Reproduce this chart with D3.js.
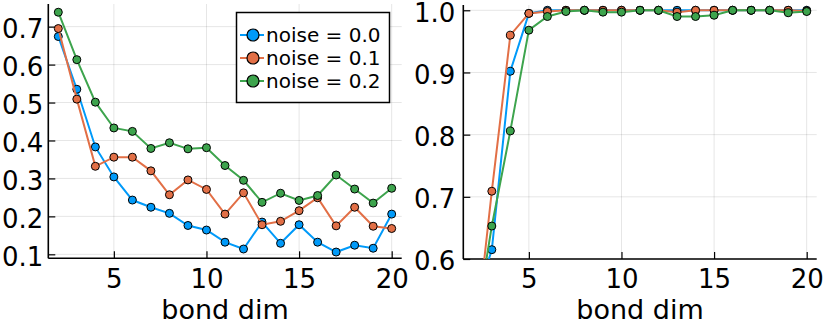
<!DOCTYPE html>
<html><head><meta charset="utf-8">
<script src="https://cdn.jsdelivr.net/npm/d3@7"></script>
<style>body{margin:0;background:#fff}svg{display:block}text{font-family:"DejaVu Sans",sans-serif;fill:#000}</style>
</head><body><svg id="c" width="823" height="322"></svg>
<script>
const bondDims = [2,3,4,5,6,7,8,9,10,11,12,13,14,15,16,17,18,19,20];
const seriesNames = ["noise = 0.0","noise = 0.1","noise = 0.2"];
const seriesColors = ["#009af9","#e26f46","#3da44d"];
// left panel
const left0 = [0.674,0.535,0.383,0.304,0.243,0.224,0.208,0.176,0.164,0.132,0.114,0.185,0.129,0.178,0.132,0.106,0.124,0.116,0.206];
const left1 = [0.695,0.509,0.332,0.356,0.356,0.320,0.257,0.296,0.271,0.206,0.262,0.178,0.187,0.215,0.249,0.175,0.224,0.174,0.168];
const left2 = [0.738,0.613,0.501,0.433,0.424,0.379,0.394,0.378,0.381,0.334,0.295,0.237,0.261,0.242,0.255,0.309,0.272,0.235,0.274];
// right panel
const right0 = [0.52,0.615,0.902,0.995,1.0,1.0,1.0,1.0,1.0,1.0,1.0,1.0,1.0,1.0,1.0,1.0,1.0,1.0,1.0];
const right1 = [0.44,0.709,0.960,0.995,0.998,1.0,1.0,1.0,1.0,1.0,1.0,0.997,1.0,1.0,1.0,1.0,1.0,1.0,0.999];
const right2 = [0.47,0.653,0.806,0.968,0.990,0.998,1.0,0.997,0.997,1.0,1.0,0.990,0.990,0.992,1.0,1.0,1.0,0.996,0.998];
const xTicks = [5,10,15,20];
const leftYTicks = [0.1,0.2,0.3,0.4,0.5,0.6,0.7];
const rightYTicks = [0.6,0.7,0.8,0.9,1.0];
const xLabel = "bond dim";

const svg = d3.select("#c");
const TICK_FONT = 26, LABEL_FONT = 27, LEG_FONT = 20;

function panel(id, box, yDomain, yTicks, series, legend, yPad) {
  const x = d3.scaleLinear().domain([1.46, 20.54]).range([box.l, box.r]);
  const y = d3.scaleLinear().domain(yDomain).range([box.b, box.t]);
  const g = svg.append("g");
  const clipId = "clip" + id;
  g.append("clipPath").attr("id", clipId).append("rect")
    .attr("x", box.l).attr("y", box.t).attr("width", box.r - box.l).attr("height", box.b - box.t);
  // grid
  g.append("g").selectAll("line.gx").data(xTicks).join("line")
    .attr("x1", d => x(d)).attr("x2", d => x(d)).attr("y1", box.t).attr("y2", box.b)
    .attr("stroke", "#000").attr("stroke-opacity", 0.1).attr("stroke-width", 1);
  g.append("g").selectAll("line.gy").data(yTicks).join("line")
    .attr("x1", box.l).attr("x2", box.r).attr("y1", d => y(d)).attr("y2", d => y(d))
    .attr("stroke", "#000").attr("stroke-opacity", 0.1).attr("stroke-width", 1);
  // axes via d3
  const xAxis = d3.axisBottom(x).tickValues(xTicks).tickSize(-7).tickPadding(10).tickFormat(d3.format("d"));
  const yAxis = d3.axisLeft(y).tickValues(yTicks).tickSize(-7).tickPadding(yPad).tickFormat(d3.format(".1f"));
  const gx = g.append("g").attr("transform", `translate(0,${box.b})`).call(xAxis);
  const gy = g.append("g").attr("transform", `translate(${box.l},0)`).call(yAxis);
  [gx, gy].forEach(a => {
    a.select(".domain").remove();
    a.selectAll("line").attr("stroke", "#000").attr("stroke-width", 1.2);
    a.selectAll("text").style("font-family", '"DejaVu Sans",sans-serif').style("font-size", TICK_FONT + "px").attr("fill", "#000");
  });
  gx.selectAll("text").attr("dy", null).attr("y", 288 - box.b);
  gy.selectAll("text").attr("dy", "0.36em").attr("y", 1.5);
  // axis lines
  g.append("line").attr("x1", box.l).attr("x2", box.r).attr("y1", box.b).attr("y2", box.b).attr("stroke", "#000").attr("stroke-width", 1.6);
  g.append("line").attr("x1", box.l).attr("x2", box.l).attr("y1", box.t).attr("y2", box.b).attr("stroke", "#000").attr("stroke-width", 1.6);
  // label
  g.append("text").attr("x", (box.l + box.r) / 2).attr("y", 319).attr("text-anchor", "middle")
    .style("font-size", LABEL_FONT + "px").text(xLabel);
  // series
  const plot = g.append("g").attr("clip-path", `url(#${clipId})`);
  const line = d3.line().x((d, i) => x(bondDims[i])).y(d => y(d));
  series.forEach((vals, si) => {
    plot.append("path").datum(vals).attr("d", line).attr("fill", "none")
      .attr("stroke", seriesColors[si]).attr("stroke-width", 2);
    plot.append("g").selectAll("circle").data(vals).join("circle")
      .attr("cx", (d, i) => x(bondDims[i])).attr("cy", d => y(d)).attr("r", 4)
      .attr("fill", seriesColors[si]).attr("stroke", "#000").attr("stroke-width", 1);
  });
  if (legend) {
    const lg = g.append("g");
    lg.append("rect").attr("x", 236.5).attr("y", 12.5).attr("width", 153).attr("height", 90)
      .attr("fill", "#fff").attr("stroke", "#000").attr("stroke-width", 1.5);
    seriesNames.forEach((n, i) => {
      const cy = 35 + i * 23;
      lg.append("line").attr("x1", 240).attr("x2", 264).attr("y1", cy).attr("y2", cy)
        .attr("stroke", seriesColors[i]).attr("stroke-width", 2);
      lg.append("circle").attr("cx", 253).attr("cy", cy).attr("r", 6)
        .attr("fill", seriesColors[i]).attr("stroke", "#000").attr("stroke-width", 1.2);
      lg.append("text").attr("x", 266).attr("y", cy).attr("dy", "0.36em")
        .style("font-size", LEG_FONT + "px").text(n);
    });
  }
}

panel("L", {l: 48.3, r: 401.7, t: 4, b: 258.3}, [0.0895, 0.7597], leftYTicks, [left0, left1, left2], true, 5);
panel("R", {l: 463.3, r: 816.7, t: 5, b: 259}, [0.6, 1.0085], rightYTicks, [right0, right1, right2], false, 8);
</script></body></html>
